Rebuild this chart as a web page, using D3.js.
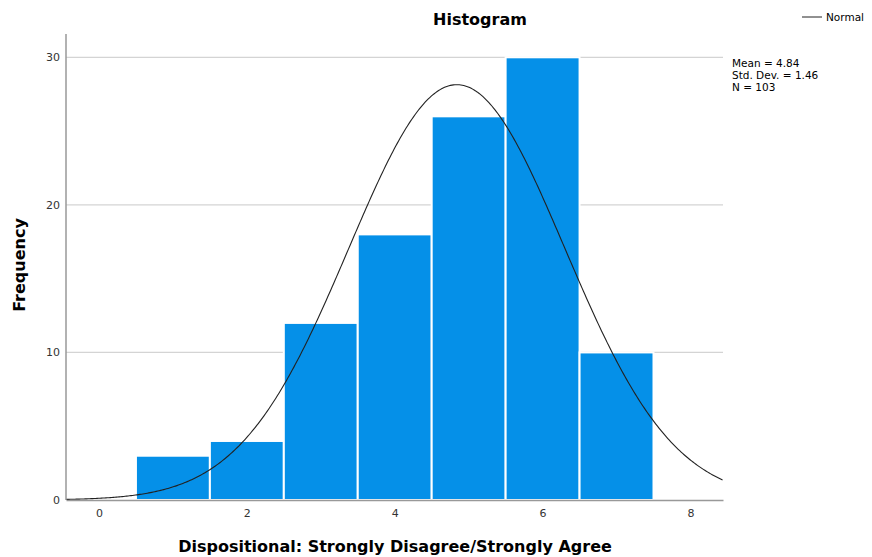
<!DOCTYPE html>
<html>
<head>
<meta charset="utf-8">
<script src="https://cdn.jsdelivr.net/npm/d3@7"></script>
<style>
  body { margin: 0; background: #fff; }
  text { font-family: "Lucida Grande", "DejaVu Sans", sans-serif; }
</style>
</head>
<body>
<svg id="chart" width="872" height="557"></svg>
<script>
// histogram bins (value = bin centre) and counts
const binCenters = [1, 2, 3, 4, 5, 6, 7]
const counts = [3, 4, 12, 18, 26, 30, 10]
const xTicks = [0, 2, 4, 6, 8]
const yTicks = [0, 10, 20, 30]
const mean = 4.84
const sd = 1.46
const n = 103
const statLines = ['Mean = 4.84', 'Std. Dev. = 1.46', 'N = 103']

const svg = d3.select('#chart')

const x = d3.scaleLinear().domain([-0.446, 8.44]).range([66, 723])
const y = d3.scaleLinear().domain([0, 30]).range([500, 57.3])

// gridlines
svg.append('g')
    .selectAll('line')
    .data(yTicks.filter(d => d > 0))
    .enter()
    .append('line')
    .attr('x1', 66)
    .attr('x2', 723)
    .attr('y1', d => y(d))
    .attr('y2', d => y(d))
    .attr('stroke', '#d4d4d4')
    .attr('stroke-width', 1.3)

// bars
svg.append('g')
    .selectAll('rect')
    .data(binCenters)
    .enter()
    .append('rect')
    .attr('x', d => x(d - 0.5))
    .attr('width', d => x(d + 0.5) - x(d - 0.5))
    .attr('y', (d, i) => y(counts[i]))
    .attr('height', (d, i) => y(0) - y(counts[i]))
    .attr('fill', '#0590e8')
    .attr('stroke', '#fff')
    .attr('stroke-width', 2)

// normal curve
const pdf = v => n * Math.exp(-0.5 * ((v - mean) / sd) ** 2) / (sd * Math.sqrt(2 * Math.PI))
const curvePts = d3.range(x.domain()[0], x.domain()[1] + 0.001, 0.02)
svg.append('path')
    .datum(curvePts)
    .attr('d', d3.line().x(d => x(d)).y(d => y(pdf(d))))
    .attr('fill', 'none')
    .attr('stroke', '#222')
    .attr('stroke-width', 1.1)

// axes
const xAxis = svg.append('g')
    .attr('transform', 'translate(0,500)')
    .call(d3.axisBottom(x).tickValues(xTicks).tickSize(0).tickPadding(9))
xAxis.select('.domain').attr('stroke', '#999').attr('stroke-width', 1.5)
xAxis.selectAll('text').attr('font-size', 11).attr('fill', '#333')

const yAxis = svg.append('g')
    .attr('transform', 'translate(66,0)')
    .call(d3.axisLeft(y).tickValues(yTicks).tickSize(0).tickPadding(6))
yAxis.select('.domain').remove()
yAxis.append('line')
    .attr('y1', 34).attr('y2', 500)
    .attr('stroke', '#999').attr('stroke-width', 1.5)
yAxis.selectAll('text').attr('font-size', 11).attr('fill', '#333')

// titles
svg.append('text')
    .attr('x', 480).attr('y', 25)
    .attr('text-anchor', 'middle')
    .attr('font-size', 16).attr('font-weight', 'bold')
    .text('Histogram')

svg.append('text')
    .attr('transform', 'translate(25,265) rotate(-90)')
    .attr('text-anchor', 'middle')
    .attr('font-size', 16).attr('font-weight', 'bold')
    .text('Frequency')

svg.append('text')
    .attr('x', 395).attr('y', 552)
    .attr('text-anchor', 'middle')
    .attr('font-size', 16).attr('font-weight', 'bold')
    .text('Dispositional: Strongly Disagree/Strongly Agree')

// legend
svg.append('line')
    .attr('x1', 802).attr('x2', 822)
    .attr('y1', 17).attr('y2', 17)
    .attr('stroke', '#222')
svg.append('text')
    .attr('x', 826).attr('y', 21)
    .attr('font-size', 10.5)
    .text('Normal')

svg.append('g')
    .selectAll('text')
    .data(statLines)
    .enter()
    .append('text')
    .attr('x', 732)
    .attr('y', (d, i) => 67 + i * 12)
    .attr('font-size', 10.5)
    .text(d => d)
</script>
</body>
</html>
